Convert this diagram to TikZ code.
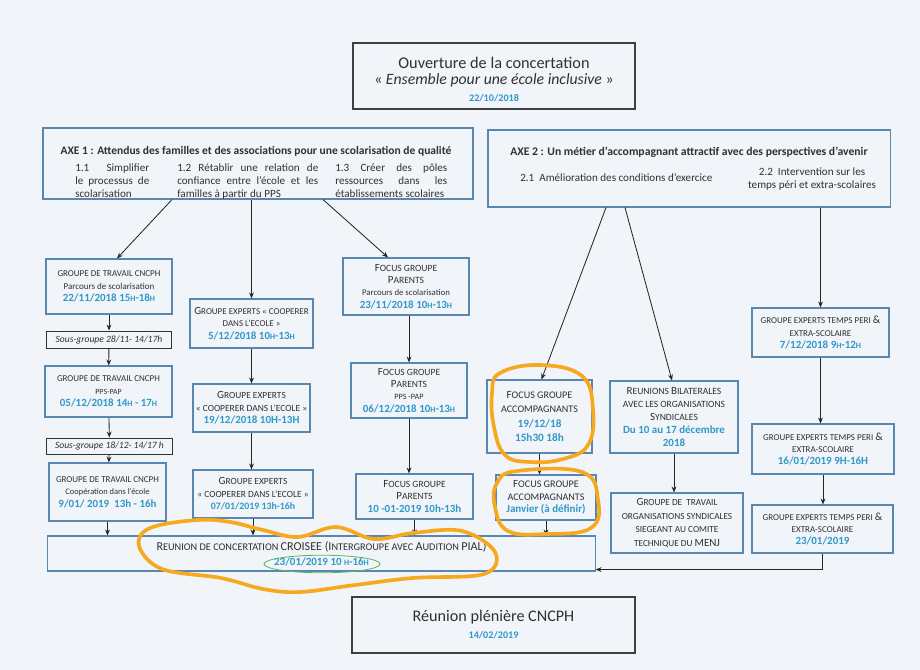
\documentclass[tikz,border=0pt]{standalone}
\usepackage{fontspec}
\setmainfont{Carlito}
\usetikzlibrary{calc,arrows.meta}
\definecolor{boxblue}{RGB}{88,135,178}
\definecolor{datecol}{RGB}{48,152,200}
\definecolor{inkgray}{RGB}{48,48,50}
\definecolor{paper}{RGB}{241,245,250}
\definecolor{hilite}{RGB}{246,168,30}
\definecolor{ringgreen}{RGB}{95,185,95}
\newcommand\sz[2]{\fontsize{#1}{#2}\selectfont}
\newcommand\dt[1]{{\sz{7.8}{8.8}\bfseries\color{datecol}#1}}
\newcommand\bc[1]{{\sz{7.8}{8.8}#1}}
\newcommand\sh{{\sz{5.8}{8.8}H}}
\newcommand\jl[2]{\makebox[#1][s]{#2}}

\begin{document}
\begin{tikzpicture}[
    x=0.025cm, y=-0.025cm,
    stage/.style={draw=boxblue, line width=0.8pt, align=center, inner sep=1pt, text=inkgray, font=\sz{6.4}{8.8}},
    subgrp/.style={draw=black!80, line width=0.7pt, align=center, inner sep=1pt, text=inkgray, font=\sz{6.8}{8.8}\itshape},
    headbox/.style={draw=black!75, line width=0.8pt, align=center, text=inkgray},
    axebox/.style={draw=boxblue, line width=0.8pt},
    axetxt/.style={inner sep=0pt, text=inkgray, font=\sz{7.9}{8.9}},
    arr/.style={-{Stealth[length=4.2pt,width=3.4pt]}, draw=black!85, line width=0.6pt},
    loopmark/.style={draw=hilite, line width=2.6pt, line cap=round, line join=round}
  ]
  \useasboundingbox (0,0) rectangle (920,670);
  \fill[paper] (0,0) rectangle (920,670);

  % opening and closing
  \node[headbox, minimum width=7.05cm, minimum height=1.65cm] (open) at (494,76)
    {{\sz{11.6}{13.4}\rule{0pt}{13pt}Ouverture de la concertation}\\
     {\sz{11.2}{13.4}«~\textit{Ensemble pour une école inclusive}~»}\\
     {\sz{7.2}{13.4}\bfseries\color{datecol}22/10/2018}};
  \node[headbox, minimum width=7.075cm, minimum height=1.4cm] (plen) at (493.5,625)
    {{\sz{11.5}{14.5}Réunion plénière CNCPH}\\
     {\sz{7.2}{14.5}\bfseries\color{datecol}14/02/2019}};

  % the two axes
  \node[axebox, minimum width=10.75cm, minimum height=1.775cm] (axeA) at (258,163.5) {};
  \node[axetxt, font=\sz{8.2}{9}\bfseries, anchor=base] (a1title) at (256,154)
    {AXE 1 : Attendus des familles et des associations pour une scolarisation de qualité};
  \node[axetxt, align=left, anchor=north west] (a11) at (75,164)
    {\jl{1.85cm}{1.1 Simplifier}\\\jl{1.85cm}{le processus de}\\scolarisation};
  \node[axetxt, align=left, anchor=north west] (a12) at (177,164)
    {\jl{3.525cm}{1.2 Rétablir une relation de}\\\jl{3.525cm}{confiance entre l’école et les}\\familles à partir du PPS};
  \node[axetxt, align=left, anchor=north west] (a13) at (335,164)
    {\jl{2.8cm}{1.3 Créer des pôles}\\\jl{2.8cm}{ressources dans les}\\établissements scolaires};

  \node[axebox, minimum width=10.05cm, minimum height=1.925cm] (axeB) at (689,168.5) {};
  \node[axetxt, font=\sz{8.3}{9}\bfseries, anchor=base] (a2title) at (689,155)
    {AXE 2 : Un métier d’accompagnant attractif avec des perspectives d’avenir};
  \node[axetxt, anchor=west] (a21) at (520,178) {2.1\ \ Amélioration des conditions d’exercice};
  \node[axetxt, align=center] (a22) at (812,179) {2.2\ \ Intervention sur les\\temps péri et extra-scolaires};

  % axe 1 : CNCPH working groups
  \node[stage, minimum width=3.15cm, minimum height=1.375cm] (gt1) at (109,286.5)
    {GROUPE DE TRAVAIL CNCPH\\Parcours de scolarisation\\\dt{22/11/2018 15\sh-18\sh}};
  \node[subgrp, minimum width=3.1cm, minimum height=0.425cm] (sg1) at (109,339.5) {Sous-groupe 28/11- 14/17h};
  \node[stage, minimum width=3.175cm, minimum height=1.275cm] (gt2) at (108.5,391.5)
    {GROUPE DE TRAVAIL CNCPH\\{\sz{5.6}{8.8}PPS-PAP}\\\dt{05/12/2018 14\sh\ - 17\sh}};
  \node[subgrp, minimum width=3.125cm, minimum height=0.4cm] (sg2) at (109.5,446) {Sous-groupe 18/12- 14/17 h};
  \node[stage, minimum width=2.925cm, minimum height=1.45cm] (gt3) at (107.5,492)
    {GROUPE DE TRAVAIL CNCPH\\{\sz{6}{8.8}Coopération dans l’école}\\\dt{9/01/ 2019\ \ 13h - 16h}};

  % axe 1 : experts
  \node[stage, minimum width=3.075cm, minimum height=1.225cm] (ex1) at (251.5,323.5)
    {\bc{G}ROUPE EXPERTS «~COOPERER\\DANS L’ECOLE~»\\\dt{5/12/2018 10\sh-13\sh}};
  \node[stage, minimum width=2.925cm, minimum height=1.2cm, font=\sz{6.7}{8.8}] (ex2) at (251.5,408)
    {\bc{G}ROUPE EXPERTS\\«~COOPERER DANS L’ECOLE~»\\\dt{19/12/2018 10H-13H}};
  \node[stage, minimum width=3cm, minimum height=1.2cm, font=\sz{6.7}{8.8}] (ex3) at (253,494)
    {\bc{G}ROUPE EXPERTS\\«~COOPERER DANS L’ECOLE~»\\{\sz{7}{8.8}\bfseries\color{datecol}07/01/2019 13h-16h}};

  % axe 1 : parents
  \node[stage, minimum width=3.15cm, minimum height=1.425cm, font=\sz{6.8}{8.8}] (fp1) at (406,286.5)
    {\bc{F}OCUS GROUPE\\\bc{P}ARENTS\\{\sz{6.2}{8.8}Parcours de scolarisation}\\\dt{23/11/2018 10\sh-13\sh}};
  \node[stage, minimum width=2.9cm, minimum height=1.375cm, font=\sz{6.8}{8.8}] (fp2) at (409,390.5)
    {\bc{F}OCUS GROUPE\\\bc{P}ARENTS\\{\sz{5.8}{8.8}PPS -PAP}\\\dt{06/12/2018 10\sh-13\sh}};
  \node[stage, minimum width=2.925cm, minimum height=1.125cm, font=\sz{6.8}{8.8}] (fp3) at (414.5,496.5)
    {\bc{F}OCUS GROUPE\\\bc{P}ARENTS\\\dt{10 -01-2019 10h-13h}};

  % axe 2 : accompagnants
  \node[stage, minimum width=2.625cm, minimum height=1.825cm, font=\sz{7.2}{10.4}] (fa1) at (539.5,416.5)
    {\bc{F}OCUS GROUPE\\ACCOMPAGNANTS\\{\sz{8}{10.4}\bfseries\color{datecol}19/12/18}\\{\sz{8}{10.4}\bfseries\color{datecol}15h30 18h}};
  \node[stage, minimum width=2.5cm, minimum height=1.125cm, font=\sz{7.2}{9}] (fa2) at (546,497.5)
    {\bc{F}OCUS GROUPE\\ACCOMPAGNANTS\\\dt{Janvier (à définir)}};

  % axe 2 : syndicats
  \node[stage, minimum width=3.2cm, minimum height=1.8cm, font=\sz{6.8}{9.2}] (rb1) at (674,417)
    {\bc{R}EUNIONS \bc{B}ILATERALES\\AVEC LES ORGANISATIONS\\\bc{S}YNDICALES\\\dt{Du 10 au 17 décembre}\\\dt{2018}};
  \node[stage, minimum width=3.3cm, minimum height=1.5cm, font=\sz{6.6}{9.6}] (rb2) at (677,523)
    {\bc{G}ROUPE DE\ \ TRAVAIL\\ORGANISATIONS SYNDICALES\\SIEGEANT AU COMITE\\TECHNIQUE DU \bc{MENJ}};

  % axe 2 : temps peri
  \node[stage, minimum width=3.425cm, minimum height=1.225cm] (tp1) at (820.5,332.5)
    {GROUPE EXPERTS TEMPS PERI \bc{\&}\\EXTRA-SCOLAIRE\\\dt{7/12/2018 9\sh-12\sh}};
  \node[stage, minimum width=3.55cm, minimum height=1.25cm] (tp2) at (823,449)
    {GROUPE EXPERTS TEMPS PERI \bc{\&}\\EXTRA-SCOLAIRE\\\dt{16/01/2019 9H-16H}};
  \node[stage, minimum width=3.525cm, minimum height=1.2cm] (tp3) at (822.5,529)
    {GROUPE EXPERTS TEMPS PERI \bc{\&}\\EXTRA-SCOLAIRE\\\dt{23/01/2019}};

  % cross meeting
  \node[stage, minimum width=13.675cm, minimum height=0.875cm, font=\sz{7.3}{10.5}] (reun) at (321.5,553.5)
    {{\sz{8.6}{10}R}EUNION DE CONCERTATION {\sz{8.6}{10}CROISEE (I}NTERGROUPE AVEC {\sz{8.6}{10}A}UDITION {\sz{8.6}{10}PIAL)}\\\dt{23/01/2019 10 \sh-16\sh}};

  % connectors
  \draw[arr] ($(axeA.south)+(-86,0)$) -- ($(gt1.north)+(8,0)$);
  \draw[arr] (axeA.south -| ex1.north) -- (ex1.north);
  \draw[arr] ($(axeA.south)+(65,0)$) -- ($(fp1.north)+(-18,0)$);
  \draw[arr] (gt1) -- (sg1);
  \draw[arr] (sg1) -- (gt2);
  \draw[arr] (gt2) -- (sg2);
  \draw[arr] (sg2) -- (gt3);
  \draw[arr] (gt3.south) -- (reun.north -| gt3.south);
  \draw[arr] (ex1) -- (ex2);
  \draw[arr] (ex2.south) -- (ex2.south |- ex3.north);
  \draw[arr] (ex3.south) -- (reun.north -| ex3.south);
  \draw[arr] (fp1.south -| fp2.north) -- (fp2.north);
  \draw[arr] (fp2.south) -- (fp2.south |- fp3.north);
  \draw[arr] (fp3.south) -- (reun.north -| fp3.south);
  \draw[arr] ($(axeB.south)+(-83,0)$) -- ($(fa1.north)+(2,0)$);
  \draw[arr] ($(axeB.south)+(-64,0)$) -- ($(rb1.north)+(-2,0)$);
  \draw[arr] (axeB.south -| tp1.north) -- (tp1.north);
  \draw[arr] (fa1.south) -- (fa1.south |- fa2.north);
  \draw[arr] (fa2.south) -- (reun.north -| fa2.south);
  \draw[arr] (rb1.south) -- (rb1.south |- rb2.north);
  \draw[arr] (tp1.south) -- (tp1.south |- tp2.north);
  \draw[arr] (tp2.south) -- (tp2.south |- tp3.north);
  \draw[arr] (tp3.south) |- ($(reun.south east)+(0,-2)$);

  % hand-drawn marks
  \draw[loopmark] plot[smooth cycle, tension=0.7] coordinates
    {(500,373) (540,365) (582,376) (593,410) (588,445) (563,459) (530,462) (505,455) (494,427) (492,393)};
  \draw[loopmark] plot[smooth cycle, tension=0.7] coordinates
    {(517,471) (582,472) (598,500) (591,528) (547,534) (508,531) (495,507) (497,483)};
  \draw[loopmark] plot[smooth cycle, tension=0.6] coordinates
    {(139,546) (150,528) (197,520) (230,522) (263,530) (298,537) (336,527) (374,539) (413,533)
     (462,531) (495,552) (484,574) (413,578) (355,585) (300,592) (263,589) (221,578) (162,569)};
  \draw[ringgreen, line width=0.6pt] (322,564) ellipse [x radius=1.45cm, y radius=0.22cm];
\end{tikzpicture}
\end{document}
